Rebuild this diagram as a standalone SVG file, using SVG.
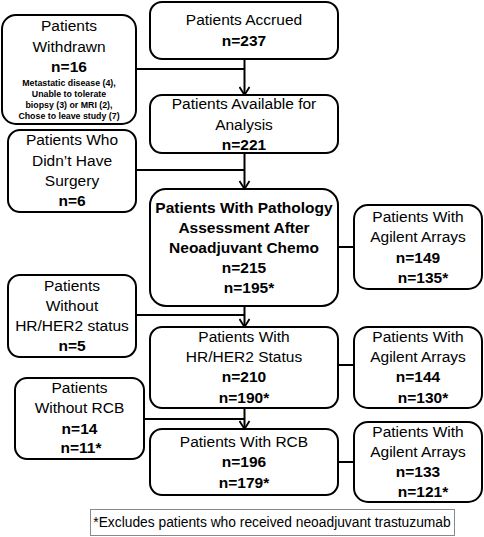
<svg xmlns="http://www.w3.org/2000/svg" width="484" height="537" viewBox="0 0 484 537">
<defs>
<marker id="arr" viewBox="0 0 12 10" refX="6" refY="9" markerWidth="12" markerHeight="10" markerUnits="userSpaceOnUse" orient="auto-start-reverse">
<path d="M1,1 L6,9 L11,1" fill="none" stroke="#000" stroke-width="1.8"/>
</marker>
<marker id="arrd" viewBox="0 0 12 10" refX="6" refY="9" markerWidth="12" markerHeight="10" markerUnits="userSpaceOnUse" orient="0">
<path d="M1,1 L6,9 L11,1" fill="none" stroke="#000" stroke-width="1.8"/>
</marker>
</defs>
<style>
.box{fill:#fff;stroke:#000;stroke-width:2}
.t{font-family:"Liberation Sans",Arial,sans-serif;font-size:15.5px;text-anchor:middle;fill:#000}
.b{font-weight:bold}
.s{font-family:"Liberation Sans",Arial,sans-serif;font-size:8.8px;font-weight:bold;text-anchor:middle;fill:#000}
.c{fill:none;stroke:#000;stroke-width:2}
</style>
<rect width="484" height="537" fill="#fff"/>
<g id="connectors">
<line class="c" x1="244.5" y1="59" x2="244.5" y2="95" marker-end="url(#arrd)"/>
<line class="c" x1="244.5" y1="153" x2="244.5" y2="189" marker-end="url(#arrd)"/>
<line class="c" x1="244.5" y1="306" x2="244.5" y2="327" marker-end="url(#arrd)"/>
<line class="c" x1="244.5" y1="408" x2="244.5" y2="429" marker-end="url(#arrd)"/>
<line class="c" x1="136" y1="69" x2="244.5" y2="69"/>
<line class="c" x1="136" y1="170" x2="244.5" y2="170"/>
<line class="c" x1="136" y1="315" x2="244.5" y2="315"/>
<line class="c" x1="144" y1="419" x2="244.5" y2="419"/>
<line class="c" x1="338" y1="247" x2="354" y2="247"/>
<line class="c" x1="338" y1="365" x2="354" y2="365"/>
<line class="c" x1="338" y1="462" x2="354" y2="462"/>
</g>
<g id="accrued">
<rect class="box" x="150" y="2" width="188" height="57" rx="12"/>
<text class="t" x="244" y="25">Patients Accrued</text>
<text class="t b" x="244" y="46">n=237</text>
</g>
<g id="available">
<rect class="box" x="150" y="95" width="188" height="58" rx="12"/>
<text class="t" x="244" y="109">Patients Available for</text>
<text class="t" x="244" y="130">Analysis</text>
<text class="t b" x="244" y="150">n=221</text>
</g>
<g id="pathology">
<rect class="box" x="150" y="189" width="188" height="117" rx="16"/>
<text class="t b" x="244" y="213">Patients With Pathology</text>
<text class="t b" x="244" y="233">Assessment After</text>
<text class="t b" x="244" y="253">Neoadjuvant Chemo</text>
<text class="t b" x="244" y="273">n=215</text>
<text class="t b" x="249" y="293">n=195*</text>
</g>
<g id="hrher2">
<rect class="box" x="150" y="327" width="188" height="81" rx="12"/>
<text class="t" x="244" y="342">Patients With</text>
<text class="t" x="244" y="362">HR/HER2 Status</text>
<text class="t b" x="244" y="382">n=210</text>
<text class="t b" x="244" y="403">n=190*</text>
</g>
<g id="rcb">
<rect class="box" x="150" y="429" width="188" height="66" rx="12"/>
<text class="t" x="244" y="447">Patients With RCB</text>
<text class="t b" x="244" y="467">n=196</text>
<text class="t b" x="244" y="488">n=179*</text>
</g>
<g id="withdrawn">
<rect class="box" x="2" y="15" width="134" height="109" rx="14"/>
<text class="t" x="69" y="31">Patients</text>
<text class="t" x="69" y="52">Withdrawn</text>
<text class="t b" x="69" y="72">n=16</text>
<text class="s" x="69" y="86">Metastatic disease (4),</text>
<text class="s" x="69" y="97">Unable to tolerate</text>
<text class="s" x="69" y="108">biopsy (3) or MRI (2),</text>
<text class="s" x="69" y="119">Chose to leave study (7)</text>
</g>
<g id="nosurgery">
<rect class="box" x="8" y="130" width="128" height="82" rx="12"/>
<text class="t" x="72" y="145">Patients Who</text>
<text class="t" x="72" y="166">Didn’t Have</text>
<text class="t" x="72" y="186">Surgery</text>
<text class="t b" x="72" y="206">n=6</text>
</g>
<g id="nohrher2">
<rect class="box" x="8" y="275" width="128" height="82" rx="12"/>
<text class="t" x="72" y="291">Patients</text>
<text class="t" x="72" y="311">Without</text>
<text class="t" x="72" y="331">HR/HER2 status</text>
<text class="t b" x="72" y="351">n=5</text>
</g>
<g id="norcb">
<rect class="box" x="15" y="378" width="129" height="81" rx="12"/>
<text class="t" x="79.5" y="393">Patients</text>
<text class="t" x="79.5" y="413">Without RCB</text>
<text class="t b" x="79.5" y="434">n=14</text>
<text class="t b" x="81" y="453">n=11*</text>
</g>
<g id="agilent1">
<rect class="box" x="354" y="205" width="128" height="84" rx="14"/>
<text class="t" x="418" y="222">Patients With</text>
<text class="t" x="418" y="242">Agilent Arrays</text>
<text class="t b" x="418" y="263">n=149</text>
<text class="t b" x="423" y="283">n=135*</text>
</g>
<g id="agilent2">
<rect class="box" x="354" y="327" width="128" height="81" rx="14"/>
<text class="t" x="418" y="342">Patients With</text>
<text class="t" x="418" y="362">Agilent Arrays</text>
<text class="t b" x="418" y="382">n=144</text>
<text class="t b" x="423" y="403">n=130*</text>
</g>
<g id="agilent3">
<rect class="box" x="354" y="422" width="128" height="80" rx="14"/>
<text class="t" x="418" y="437">Patients With</text>
<text class="t" x="418" y="457">Agilent Arrays</text>
<text class="t b" x="418" y="477">n=133</text>
<text class="t b" x="423" y="497">n=121*</text>
</g>
<g id="footnote">
<rect x="90.5" y="509.5" width="364" height="26" fill="#fff" stroke="#888" stroke-width="1"/>
<text x="272" y="527" font-family="Liberation Sans, Arial, sans-serif" font-size="13.8" text-anchor="middle" fill="#000">*Excludes patients who received neoadjuvant trastuzumab</text>
</g>
</svg>
